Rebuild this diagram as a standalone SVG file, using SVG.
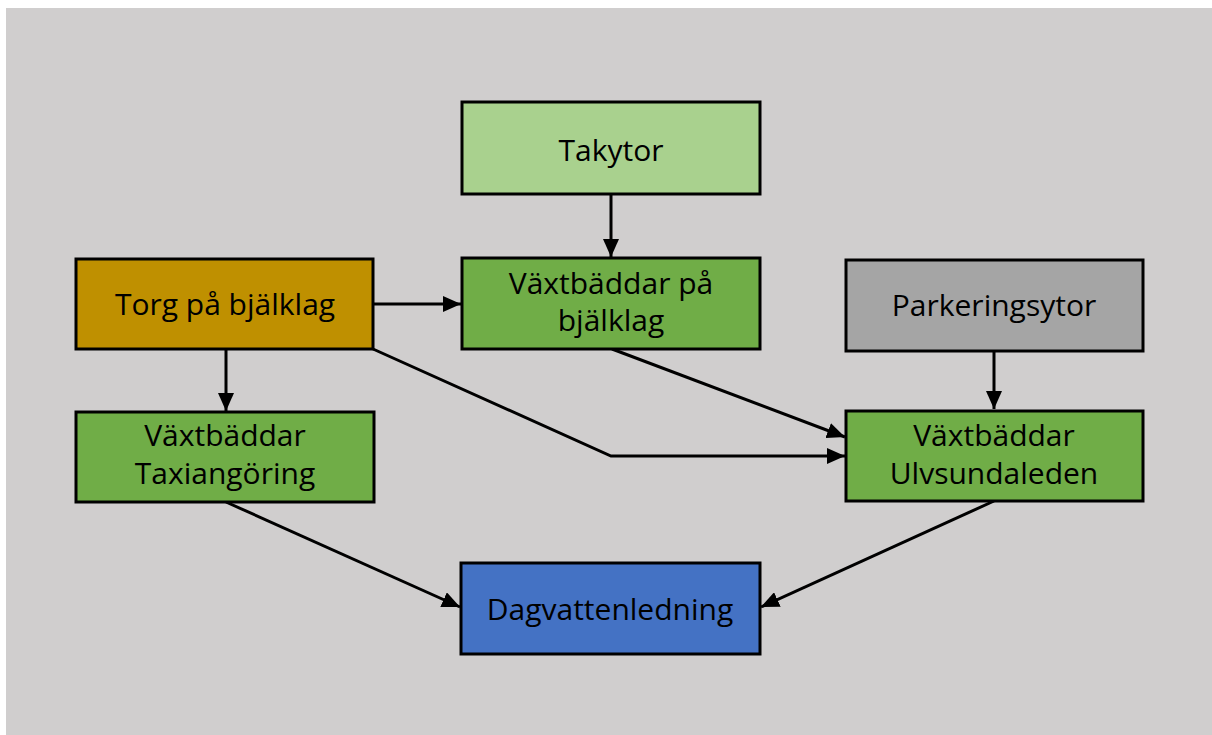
<svg xmlns="http://www.w3.org/2000/svg" width="1212" height="735" viewBox="0 0 1212 735">
<style>
.box{stroke:#000;stroke-width:3}
.t{font-family:"Open Sans","Noto Sans",sans-serif;font-size:30px;fill:#000;text-anchor:middle}
.c{fill:none;stroke:#000;stroke-width:3}
</style>
<defs>
<marker id="a" viewBox="0 0 18 16" refX="18" refY="8" markerWidth="18" markerHeight="16" markerUnits="userSpaceOnUse" orient="auto">
<path d="M0,0 L18,8 L0,16 Z" fill="#000"/>
</marker>
</defs>
<rect x="0" y="0" width="1212" height="735" fill="#fff"/>
<rect x="6" y="8" width="1206" height="727" fill="#D0CECE"/>
<g id="connectors">
<line class="c" x1="611" y1="194" x2="611" y2="257" marker-end="url(#a)"/>
<line class="c" x1="373" y1="304" x2="461" y2="304" marker-end="url(#a)"/>
<line class="c" x1="226" y1="349" x2="226" y2="411" marker-end="url(#a)"/>
<line class="c" x1="612" y1="349" x2="845" y2="437" marker-end="url(#a)"/>
<polyline class="c" points="373,349 611,456 845,456" marker-end="url(#a)"/>
<line class="c" x1="994" y1="351" x2="994" y2="409" marker-end="url(#a)"/>
<line class="c" x1="226" y1="502" x2="460" y2="607" marker-end="url(#a)"/>
<line class="c" x1="994" y1="501" x2="761" y2="607" marker-end="url(#a)"/>
</g>
<g id="takytor">
<rect class="box" x="462" y="102" width="298" height="92" fill="#A9D18E"/>
<text class="t" x="611" y="161">Takytor</text>
</g>
<g id="vaxt-bjalklag">
<rect class="box" x="462" y="258" width="298" height="91" fill="#70AD47"/>
<text class="t" x="611" y="294">Växtbäddar på</text>
<text class="t" x="611" y="331">bjälklag</text>
</g>
<g id="torg">
<rect class="box" x="76" y="259" width="297" height="90" fill="#BF9000"/>
<text class="t" x="225" y="315">Torg på bjälklag</text>
</g>
<g id="parkering">
<rect class="box" x="846" y="260" width="297" height="91" fill="#A5A5A5"/>
<text class="t" x="994" y="316">Parkeringsytor</text>
</g>
<g id="vaxt-taxi">
<rect class="box" x="76" y="412" width="298" height="90" fill="#70AD47"/>
<text class="t" x="225" y="446">Växtbäddar</text>
<text class="t" x="225" y="484">Taxiangöring</text>
</g>
<g id="vaxt-ulvsunda">
<rect class="box" x="846" y="411" width="297" height="90" fill="#70AD47"/>
<text class="t" x="994" y="446">Växtbäddar</text>
<text class="t" x="994" y="484">Ulvsundaleden</text>
</g>
<g id="dagvatten">
<rect class="box" x="461" y="563" width="299" height="91" fill="#4472C4"/>
<text class="t" x="610" y="620">Dagvattenledning</text>
</g>
</svg>
